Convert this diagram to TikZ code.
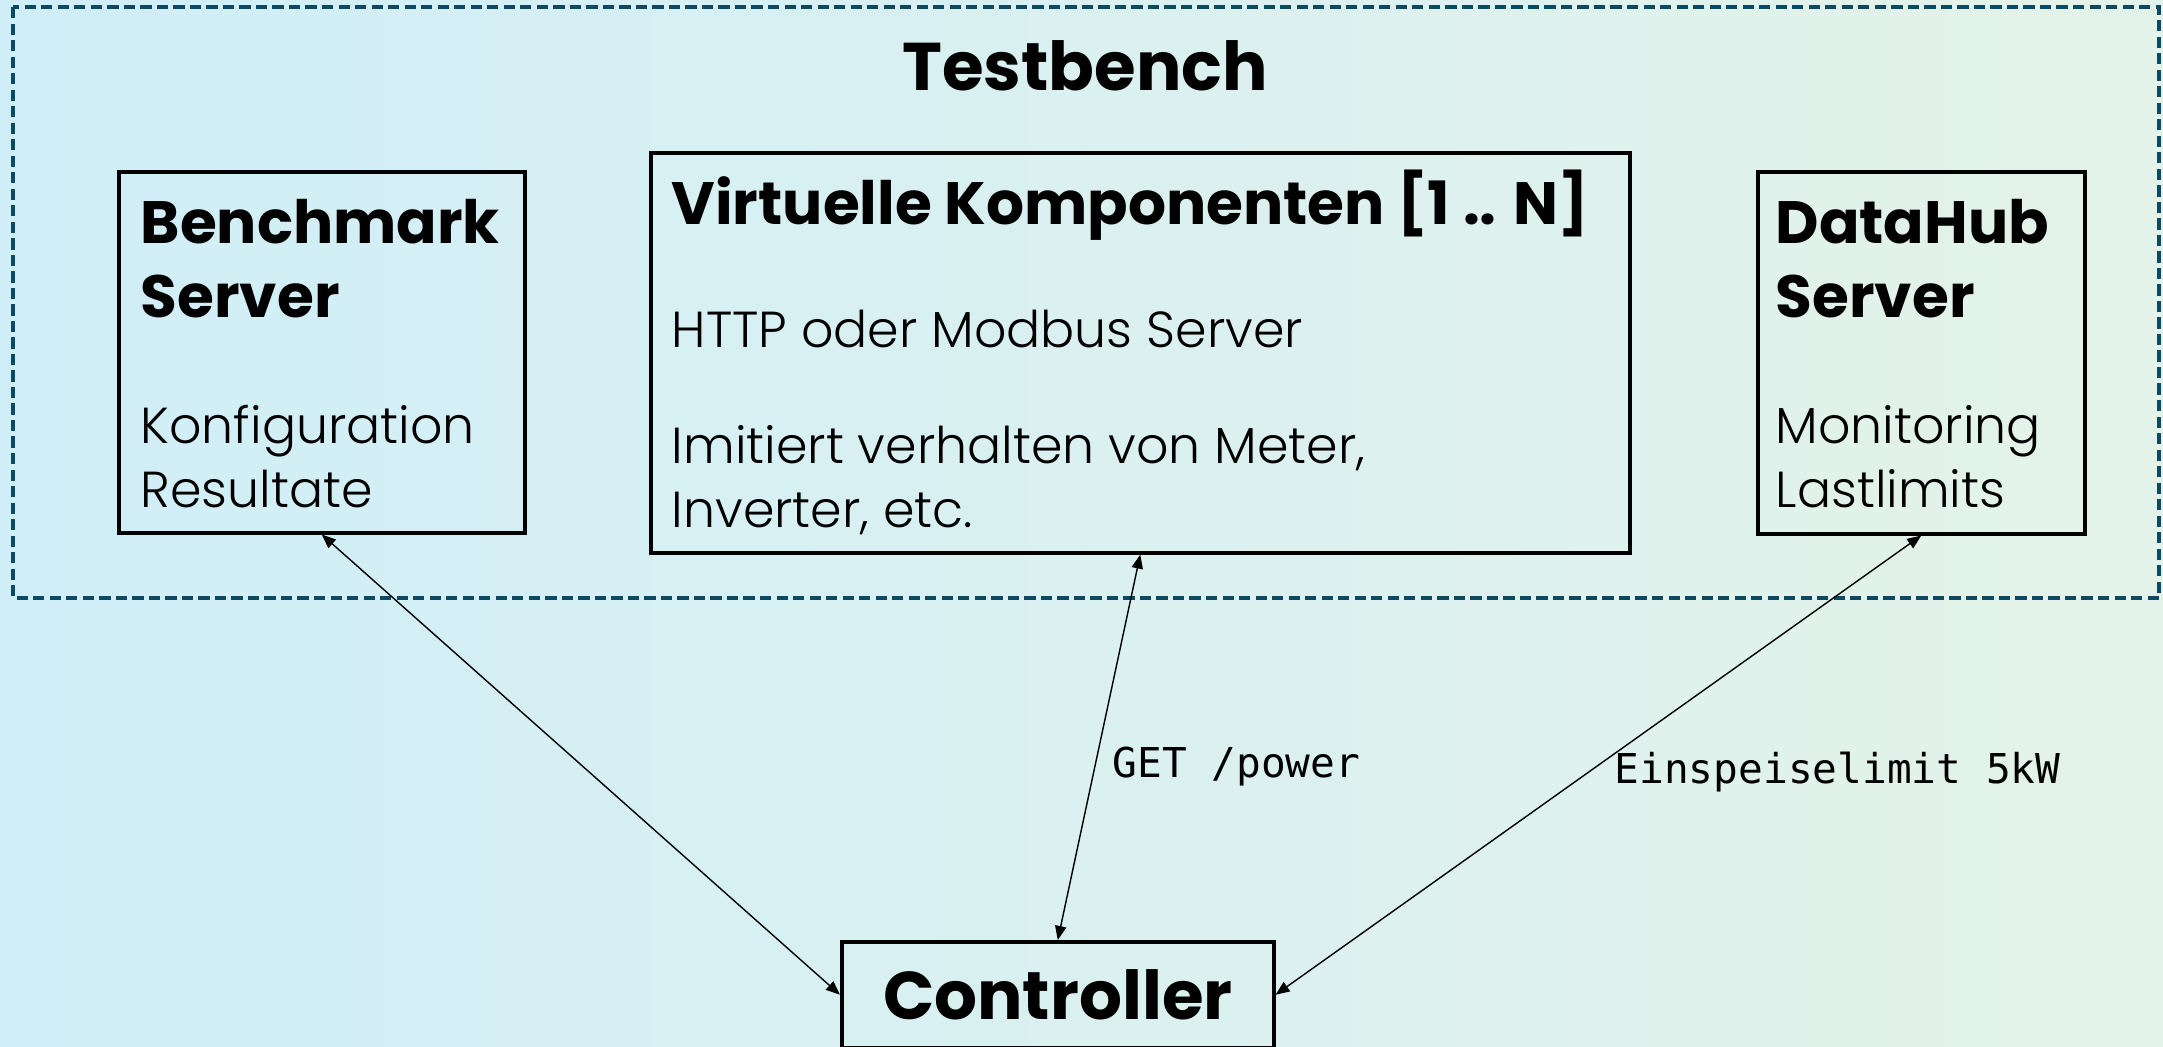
\documentclass[tikz,border=0pt]{standalone}
\usepackage{fontspec}
\setmainfont{Poppins}
\newfontfamily\thinfont{Poppins}[UprightFont=* Light]
\newfontfamily\codefont{DejaVu Sans Mono}
\usetikzlibrary{arrows.meta}

\definecolor{framecol}{RGB}{11,74,98}
\definecolor{bgleft}{RGB}{208,238,248}
\definecolor{bgright}{RGB}{228,243,233}

\tikzset{
  box/.style={draw, line width=1pt, anchor=north west, inner sep=0pt},
  head/.style={anchor=base west, inner sep=0pt, font=\fontsize{17}{20}\selectfont\bfseries},
  body/.style={anchor=base west, inner sep=0pt, font=\fontsize{14.4}{17}\selectfont\thinfont},
  big/.style={font=\fontsize{19.2}{23}\selectfont\bfseries},
  link/.style={{Triangle[length=4pt,width=3.2pt]}-{Triangle[length=4pt,width=3.2pt]}, line width=0.4pt},
  code/.style={anchor=base west, inner sep=0pt, font=\fontsize{11.7}{14}\selectfont\codefont}
}

\begin{document}
\begin{tikzpicture}[x=0.1mm, y=-0.1mm]
  \shade[left color=bgleft, right color=bgright] (0,0) rectangle (2163,1046);
  \useasboundingbox (0,0) rectangle (2163,1046);
  \draw[framecol, line width=1.1pt, dash pattern=on 3.2pt off 1.5pt] (13,7) rectangle (2159,598);
  \node[big, anchor=base, inner sep=0pt] (title) at (1085,90) {Testbench};

  \node[box, minimum width=40.6mm, minimum height=36.1mm] (bench) at (117,170) {};
  \node[head] (bench1) at (140,243) {Benchmark};
  \node[head] (bench2) at (140,317) {Server};
  \node[body] (bench3) at (140,443) {Konfiguration};
  \node[body] (bench4) at (140,507) {Resultate};

  \node[box, minimum width=97.9mm, minimum height=40mm] (virt) at (649,151) {};
  \node[head] (virt1) at (671,224) {Virtuelle Komponenten [1 .. N]};
  \node[body] (virt2) at (671,347) {HTTP oder Modbus Server};
  \node[body] (virt3) at (671,463) {Imitiert verhalten von Meter,};
  \node[body] (virt4) at (671,527) {Inverter, etc.};

  \node[box, minimum width=32.7mm, minimum height=36.2mm] (hub) at (1756,170) {};
  \node[head] (hub1) at (1775,243) {DataHub};
  \node[head] (hub2) at (1775,317) {Server};
  \node[body] (hub3) at (1775,443) {Monitoring};
  \node[body] (hub4) at (1775,507) {Lastlimits};

  \node[box, big, minimum width=43.2mm, minimum height=10.6mm] (ctrl) at (840,940) {Controller};

  \draw[link] (bench.south) -- (ctrl.west);
  \draw[link] (virt.south) -- (ctrl.north);
  \draw[link] (hub.south) -- (ctrl.east);

  \node[code] (getlbl) at (1112,777) {GET /power};
  \node[code] (limlbl) at (1614,783) {Einspeiselimit 5kW};
\end{tikzpicture}
\end{document}
